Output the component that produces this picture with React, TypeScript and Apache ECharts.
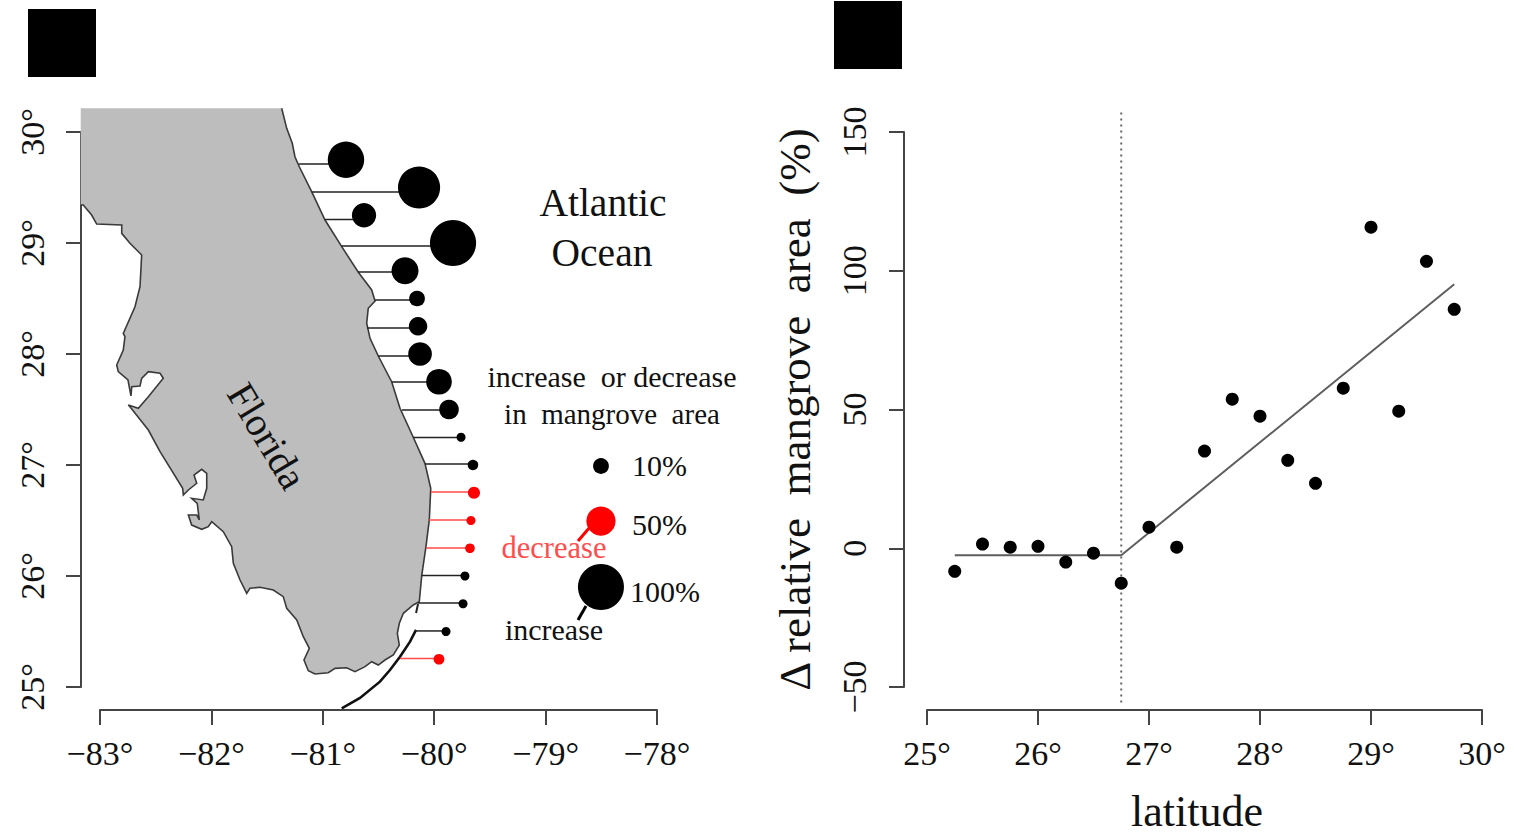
import React, { useEffect, useRef } from "react";
import * as echarts from "echarts";

const SERIF = "Liberation Serif";
const AXIS = "#454545";
const TEXT = "#111111";
const RED = "#ff0000";

const latitudes = [25.25, 25.5, 25.75, 26, 26.25, 26.5, 26.75, 27, 27.25, 27.5, 27.75, 28, 28.25, 28.5, 28.75, 29, 29.25, 29.5, 29.75];
const changes = [-8.3, 1.5, 0.4, 0.7, -5, -1.8, -12.6, 7.6, 0.4, 35, 53.7, 47.6, 31.7, 23.4, 57.7, 115.7, 49.4, 103.4, 86.1];
const markerLons = [-79.957, -79.894, -79.741, -79.724, -79.679, -79.67, -79.643, -79.652, -79.759, -79.867, -79.957, -80.127, -80.145, -80.154, -80.262, -79.831, -80.63, -80.136, -80.792];
const stickLats = [25.257, 25.505, 25.757, 26.005, 26.252, 26.505, 26.757, 27.009, 27.248, 27.495, 27.748, 27.982, 28.234, 28.486, 28.739, 28.973, 29.212, 29.459, 29.712];
const stickStartLons = [-80.307, -80.172, -80.145, -80.11, -80.074, -80.047, -80.029, -80.083, -80.19, -80.289, -80.379, -80.504, -80.603, -80.531, -80.684, -80.83, -80.98, -81.1, -81.214];

const coastline: number[][] = [
  [-81.369, 30.214], [-81.324, 30.033], [-81.274, 29.898], [-81.25, 29.777], [-81.211, 29.687], [-81.1, 29.462], [-80.98, 29.207], [-80.83, 28.967], [-80.681, 28.736], [-80.561, 28.577], [-80.531, 28.477], [-80.592, 28.412], [-80.606, 28.277], [-80.576, 28.141], [-80.502, 27.982], [-80.382, 27.75], [-80.307, 27.511], [-80.188, 27.25], [-80.083, 27.015], [-80.031, 26.79], [-80.044, 26.505], [-80.074, 26.264], [-80.112, 26.003], [-80.134, 25.768], [-80.188, 25.739], [-80.277, 25.664], [-80.313, 25.574], [-80.331, 25.484], [-80.313, 25.378], [-80.367, 25.288], [-80.442, 25.243], [-80.502, 25.198], [-80.561, 25.228], [-80.621, 25.183], [-80.711, 25.138], [-80.786, 25.174], [-80.89, 25.168], [-80.951, 25.129], [-81.07, 25.117], [-81.13, 25.147], [-81.169, 25.243], [-81.121, 25.349], [-81.175, 25.453], [-81.234, 25.604], [-81.324, 25.709], [-81.355, 25.814], [-81.444, 25.874], [-81.564, 25.898], [-81.654, 25.889], [-81.683, 25.844], [-81.743, 25.964], [-81.803, 26.114], [-81.818, 26.264], [-81.893, 26.399], [-81.997, 26.489], [-82.028, 26.444], [-82.087, 26.421], [-82.177, 26.459], [-82.207, 26.55], [-82.132, 26.55], [-82.109, 26.505], [-82.127, 26.655], [-82.177, 26.7], [-82.073, 26.685], [-82.042, 26.79], [-82.042, 26.925], [-82.087, 26.961], [-82.156, 26.91], [-82.132, 26.835], [-82.207, 26.775], [-82.252, 26.73], [-82.258, 26.79], [-82.461, 27.12], [-82.566, 27.315], [-82.731, 27.525], [-82.746, 27.541], [-82.656, 27.511], [-82.566, 27.615], [-82.432, 27.781], [-82.461, 27.826], [-82.566, 27.841], [-82.626, 27.781], [-82.641, 27.712], [-82.715, 27.705], [-82.722, 27.622], [-82.749, 27.766], [-82.836, 27.841], [-82.85, 27.901], [-82.791, 28.036], [-82.776, 28.156], [-82.791, 28.186], [-82.686, 28.426], [-82.641, 28.606], [-82.626, 28.892], [-82.731, 28.997], [-82.805, 29.087], [-82.805, 29.162], [-83.03, 29.171], [-83.075, 29.252], [-83.15, 29.342], [-83.173, 29.342],
];
const mapCorner = [-83.173, 30.214];
const keysLine: number[][] = [[-80.83, 24.808], [-80.666, 24.901], [-80.487, 25.048], [-80.397, 25.153], [-80.307, 25.273], [-80.217, 25.408], [-80.163, 25.514]];
const keyLargo: number[][] = [[-80.163, 25.667], [-80.145, 25.748]];

const legendValues = [10, 50, 100];
const legendLons = [-78.503, -78.503, -78.503];
const legendLats = [26.991, 26.495, 25.901];
const legendLabels = ["10%", "50%", "100%"];

const lonTickLabels = ["−83°", "−82°", "−81°", "−80°", "−79°", "−78°"];
const latTickLabels = ["25°", "26°", "27°", "28°", "29°", "30°"];
const changeTickLabels = ["−50", "0", "50", "100", "150"];

const fitX = [25.25, 26.75, 29.75];
const fitY = [-2.5, -2.5, 95.1];
const breakpointX = [26.75, 26.75];
const breakpointY = [157, -56.6];

const sizeOf = (v: number) => Math.max(9, 8 + 0.33 * Math.abs(v));

const labelStyle = { fontFamily: SERIF, fontSize: 34, color: TEXT, hideOverlap: false, showMinLabel: true, showMaxLabel: true };
const axisCommon = (offset: number) => ({
  type: "value" as const,
  offset,
  splitLine: { show: false },
  axisLine: { show: true, onZero: false, lineStyle: { color: AXIS, width: 2 } },
  axisTick: { show: true, length: 15, lineStyle: { color: AXIS, width: 2 } },
});

function textEl(text: string, x: number, y: number, fontSize: number, extra: any = {}) {
  const { fill, rotation, align } = extra;
  return {
    type: "text",
    x,
    y,
    z: 20,
    rotation: rotation ?? 0,
    silent: true,
    style: { text, fontFamily: SERIF, fontSize, fill: fill ?? TEXT, align: align ?? "center", verticalAlign: "middle" },
  };
}

export default function App() {
  const ref = useRef<HTMLDivElement>(null);
  useEffect(() => {
    if (!ref.current) return;
    const chart = echarts.init(ref.current, undefined, { renderer: "svg" });
    const option: any = {
      animation: false,
      backgroundColor: "#ffffff",
      grid: [
        { left: 100, top: 132, width: 557, height: 555, outerBoundsMode: "none" },
        { left: 927, top: 132, width: 555, height: 555, outerBoundsMode: "none" },
      ],
      xAxis: [
        {
          ...axisCommon(23), gridIndex: 0, position: "bottom", min: -83, max: -78, interval: 1,
          axisLabel: { ...labelStyle, margin: 26, formatter: (_: number, i: number) => lonTickLabels[i] },
        },
        {
          ...axisCommon(23), gridIndex: 1, position: "bottom", min: 25, max: 30, interval: 1,
          axisLabel: { ...labelStyle, margin: 26, formatter: (_: number, i: number) => latTickLabels[i] },
          name: "latitude", nameLocation: "center", nameGap: 79,
          nameTextStyle: { fontFamily: SERIF, fontSize: 44, color: TEXT, padding: [0, 15, 0, 0] },
        },
      ],
      yAxis: [
        {
          ...axisCommon(19), gridIndex: 0, position: "left", min: 25, max: 30, interval: 1,
          axisLabel: { ...labelStyle, rotate: 90, margin: 32, formatter: (_: number, i: number) => latTickLabels[i] },
        },
        {
          ...axisCommon(23), gridIndex: 1, position: "left", min: -50, max: 150, interval: 50,
          axisLabel: { ...labelStyle, rotate: 90, margin: 33, formatter: (_: number, i: number) => changeTickLabels[i] },
          name: "Δ relative  mangrove  area  (%)", nameLocation: "center", nameGap: 87, nameRotate: 90,
          nameTextStyle: { fontFamily: SERIF, fontSize: 45, color: TEXT },
        },
      ],
      series: [
        {
          type: "custom", xAxisIndex: 0, yAxisIndex: 0, silent: true, z: 1, data: [[-81, 28]],
          renderItem: (_: any, api: any) => {
            const pts = coastline.map((p) => api.coord(p));
            const keyPts = keysLine.map((p) => api.coord(p));
            const largoPts = keyLargo.map((p) => api.coord(p));
            return {
              type: "group",
              children: [
                { type: "polygon", shape: { points: [...pts, api.coord(mapCorner)] }, style: { fill: "#bdbdbd", stroke: "none" } },
                { type: "polyline", shape: { points: pts }, style: { fill: "none", stroke: "#3a3a3a", lineWidth: 1.6 } },
                { type: "polyline", shape: { points: keyPts }, style: { fill: "none", stroke: "#111", lineWidth: 2.6 } },
                { type: "polyline", shape: { points: largoPts }, style: { fill: "none", stroke: "#222", lineWidth: 2 } },
              ],
            };
          },
        },
        {
          type: "custom", xAxisIndex: 0, yAxisIndex: 0, silent: true, z: 2,
          data: latitudes.map((_, i) => [stickStartLons[i], stickLats[i], markerLons[i], changes[i]]),
          renderItem: (_: any, api: any) => {
            const a = api.coord([api.value(0), api.value(1)]);
            const b = api.coord([api.value(2), api.value(1)]);
            return {
              type: "line",
              shape: { x1: a[0], y1: a[1], x2: b[0], y2: b[1] },
              style: { stroke: api.value(3) < 0 ? "#ff4a4a" : "#222", lineWidth: 1.5 },
            };
          },
        },
        {
          type: "scatter", xAxisIndex: 0, yAxisIndex: 0, silent: true, z: 3, clip: false,
          data: latitudes.map((lat, i) => ({
            value: [markerLons[i], lat, changes[i]],
            itemStyle: { color: changes[i] < 0 ? RED : "#000", opacity: 1 },
          })),
          symbolSize: (v: number[]) => sizeOf(v[2]),
        },
        {
          type: "scatter", xAxisIndex: 0, yAxisIndex: 0, silent: true, z: 3, clip: false,
          data: legendValues.map((v, i) => ({
            value: [legendLons[i], legendLats[i], v],
            itemStyle: { color: v === 50 ? RED : "#000", opacity: 1 },
          })),
          symbolSize: (v: number[]) => 12.5 + 0.335 * v[2],
        },
        {
          type: "line", xAxisIndex: 1, yAxisIndex: 1, silent: true, showSymbol: false, z: 2, clip: false,
          data: fitX.map((x, i) => [x, fitY[i]]),
          lineStyle: { color: "#5e5e5e", width: 2 },
        },
        {
          type: "line", xAxisIndex: 1, yAxisIndex: 1, silent: true, showSymbol: false, z: 1, clip: false,
          data: breakpointX.map((x, i) => [x, breakpointY[i]]),
          lineStyle: { color: "#666", width: 2, type: [2, 4] },
        },
        {
          type: "scatter", xAxisIndex: 1, yAxisIndex: 1, silent: true, z: 3, clip: false, symbolSize: 13,
          data: latitudes.map((lat, i) => [lat, changes[i]]),
          itemStyle: { color: "#000", opacity: 1 },
        },
      ],
      graphic: [
        { type: "rect", shape: { x: 28, y: 9, width: 68, height: 68 }, style: { fill: "#000" }, silent: true },
        { type: "rect", shape: { x: 834, y: 1, width: 68, height: 68 }, style: { fill: "#000" }, silent: true },
        textEl("Atlantic", 603, 203, 39.5),
        textEl("Ocean", 602, 253, 39.5),
        textEl("Florida", 267, 436, 40, { rotation: -1.03 }),
        textEl("increase  or decrease", 612, 376, 30),
        textEl("in  mangrove  area", 612, 414, 29),
        textEl(legendLabels[0], 632, 465, 30, { align: "left" }),
        textEl(legendLabels[1], 632, 524, 30, { align: "left" }),
        textEl(legendLabels[2], 630, 591, 30, { align: "left" }),
        textEl("decrease", 554, 548, 30.5, { fill: "#ff4d4d" }),
        textEl("increase", 554, 629, 30),
        { type: "line", z: 20, shape: { x1: 590, y1: 527, x2: 578, y2: 541 }, style: { stroke: RED, lineWidth: 3 }, silent: true },
        { type: "line", z: 20, shape: { x1: 586, y1: 606, x2: 578, y2: 620 }, style: { stroke: "#000", lineWidth: 3 }, silent: true },
      ],
    };
    chart.setOption(option);
    return () => chart.dispose();
  }, []);
  return <div ref={ref} style={{ position: "fixed", left: 0, top: 0, width: 1516, height: 836 }} />;
}
